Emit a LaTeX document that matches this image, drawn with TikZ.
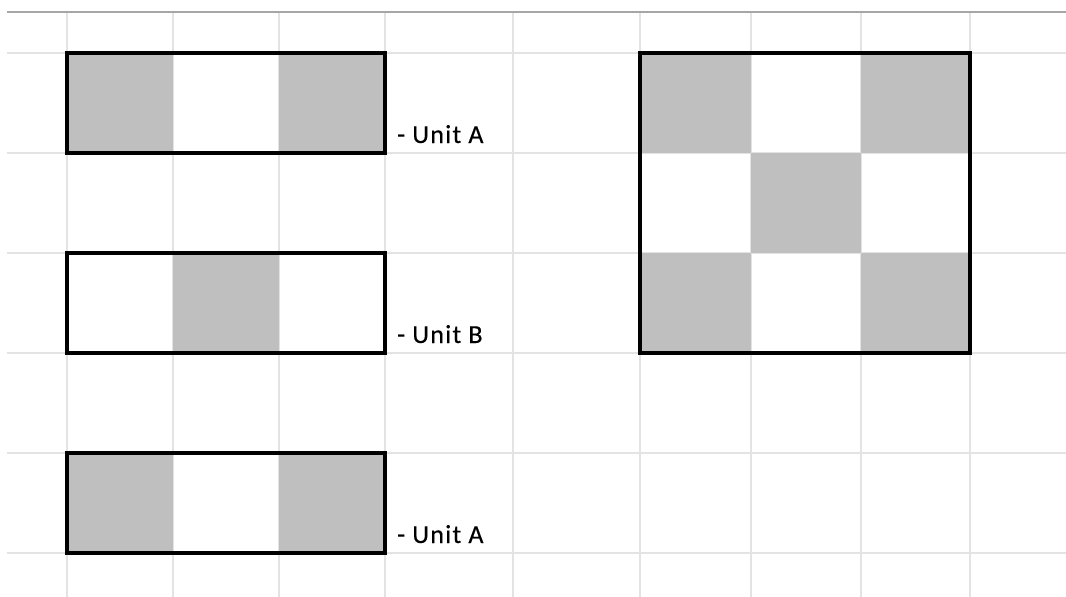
\documentclass[tikz,border=0pt]{standalone}
\usepackage{fontspec}
\setmainfont{Carlito}
\newfontfamily\unitfont[LetterSpace=5,FakeBold=0.4]{Carlito}
\begin{document}
\begin{tikzpicture}[x=1pt,y=-1pt,
  gridline/.style={draw=black!11,line width=1.3pt},
  topline/.style={draw=black!35,line width=1.4pt},
  cellfill/.style={fill=black!25},
  frame/.style={draw=black,line width=3.4pt},
  unitlabel/.style={anchor=base west,inner sep=0pt,font=\unitfont\fontsize{26}{28}\selectfont}]
\useasboundingbox (0,0) rectangle (1066,597);
\fill[white] (0,0) rectangle (1066,597);
% grid
\foreach \x in {67,173,279,385,513,640,751,861,970}
  \draw[gridline] (\x,13) -- (\x,597);
\foreach \y in {53,153,253,353,453,553}
  \draw[gridline] (7,\y) -- (1066,\y);
\draw[topline] (7,12) -- (1066,12);
% Unit A (top)
\fill[cellfill] (67,53) rectangle (173,153);
\fill[cellfill] (279,53) rectangle (385,153);
\draw[frame] (67,53) rectangle (385,153);
\node[unitlabel] (la1) at (397,143) {- Unit A};
% Unit B
\fill[cellfill] (173,253) rectangle (279,353);
\draw[frame] (67,253) rectangle (385,353);
\node[unitlabel] (lb) at (397,343) {- Unit B};
% Unit A (bottom)
\fill[cellfill] (67,453) rectangle (173,553);
\fill[cellfill] (279,453) rectangle (385,553);
\draw[frame] (67,453) rectangle (385,553);
\node[unitlabel] (la2) at (397,543) {- Unit A};
% combined square
\fill[cellfill] (640,53) rectangle (751,153);
\fill[cellfill] (861,53) rectangle (970,153);
\fill[cellfill] (751,153) rectangle (861,253);
\fill[cellfill] (640,253) rectangle (751,353);
\fill[cellfill] (861,253) rectangle (970,353);
\draw[frame] (640,53) rectangle (970,353);
\end{tikzpicture}
\end{document}
